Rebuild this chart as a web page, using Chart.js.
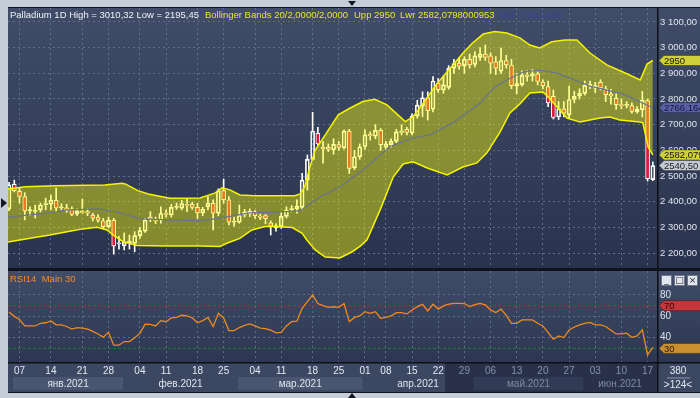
<!DOCTYPE html>
<html>
<head>
<meta charset="utf-8">
<title>Palladium 1D</title>
<script src="https://cdn.jsdelivr.net/npm/chart.js@4.4.1/dist/chart.umd.min.js"></script>
<style>
  html, body { margin: 0; padding: 0; }
  body { width: 700px; height: 398px; position: relative; overflow: hidden; background: #c5cdd8; font-family: "Liberation Sans", Arial, sans-serif; }
  #frame { position: absolute; left: 8px; top: 7px; width: 692px; height: 386px; background: #0f131b; }
  canvas { position: absolute; left: 8px; }
  #priceCanvas { top: 8px; }
  #rsiCanvas { top: 271px; }
  .lbl { position: absolute; font-size: 9.5px; line-height: 11px; white-space: nowrap; }
  .tri { position: absolute; width: 0; height: 0; }
  #btns { position: absolute; left: 661px; top: 275px; font-size: 0; }
  #btns span { display: inline-block; width: 9px; height: 9px; margin-right: 2px; background: #e2e6ec; border: 1px solid #6d7588; color: #1c2230; font-size: 9px; line-height: 9px; text-align: center; vertical-align: top; font-family: "DejaVu Sans", sans-serif; }
</style>
</head>
<body>
<div id="frame"></div>
<canvas id="priceCanvas" width="692" height="260"></canvas>
<canvas id="rsiCanvas" width="692" height="121"></canvas>

<div class="lbl" style="left:10px;top:9px;color:#eef2f7">Palladium 1D High = 3010,32 Low = 2195,45</div>
<div class="lbl" style="left:205px;top:9px;color:#e6e62c">Bollinger Bands 20/2,0000/2,0000</div>
<div class="lbl" style="left:354px;top:9px;color:#e6e62c">Upp 2950</div>
<div class="lbl" style="left:400px;top:9px;color:#e6e62c">Lwr 2582,0798000953</div>
<div class="lbl" style="left:499px;top:9px;color:#3b4596">Mid 2766,1645</div>
<div class="lbl" style="left:10px;top:273px;color:#f08c28">RSI14&nbsp; Main 30</div>
<div id="btns"><span>_</span><span>□</span><span>×</span></div>

<div class="tri" style="left:348px;top:1px;border-left:4px solid transparent;border-right:4px solid transparent;border-top:5px solid #141820"></div>
<div class="tri" style="left:348px;top:393px;border-left:4px solid transparent;border-right:4px solid transparent;border-bottom:5px solid #141820"></div>
<div class="tri" style="left:1px;top:198px;border-top:5px solid transparent;border-bottom:5px solid transparent;border-left:6px solid #141820"></div>

<script>
var FONT = '"Liberation Sans", Arial, sans-serif';

// bar index 0 = 05.01.2021 ... 123 = 18.06.2021
var X_MIN = -0.2, X_MAX = 123.8;

// thursday marks on the date axis
var weekIdx = [2, 8, 14, 19, 25, 30, 36, 41, 47, 52, 58, 63, 68, 72, 77, 82, 87, 92, 97, 102, 107, 112, 117, 122];
var weekLabels = ['07', '14', '21', '28', '04', '11', '18', '25', '04', '11', '18', '25', '01', '08', '15', '22', '29', '06', '13', '20', '27', '03', '10', '17'];
var monthNames = ['янв.2021', 'фев.2021', 'мар.2021', 'апр.2021', 'май.2021', 'июн.2021'];
var monthEdges = [0.75, 21.8, 43.75, 67.5, 88.8, 109.7, 123.8];
var shadedFrom = 83.3;

var openP = [2372, 2468, 2440, 2420, 2364, 2362, 2368, 2388, 2390, 2405,
  2376, 2376, 2372, 2352, 2362, 2361, 2348, 2340, 2325, 2303,
  2328, 2235, 2228, 2240, 2238, 2268, 2285, 2340, 2330, 2328,
  2355, 2348, 2378, 2375, 2390, 2390, 2378, 2356, 2380, 2394,
  2355, 2443, 2407, 2320, 2320, 2348, 2352, 2360, 2344, 2346,
  2318, 2298, 2303, 2343, 2368, 2372, 2378, 2484, 2565, 2666,
  2612, 2612, 2602, 2622, 2610, 2675, 2532, 2575, 2615, 2662,
  2655, 2678, 2612, 2622, 2636, 2670, 2682, 2668, 2734, 2772,
  2805, 2760, 2862, 2835, 2845, 2920, 2940, 2930, 2955, 2935,
  2962, 2975, 2968, 2945, 2908, 2950, 2932, 2850, 2856, 2893,
  2890, 2898, 2866, 2848, 2810, 2730, 2762, 2738, 2798, 2812,
  2822, 2852, 2842, 2865, 2840, 2818, 2803, 2778, 2775, 2774,
  2750, 2758, 2794, 2486];
var highP = [2475, 2484, 2452, 2435, 2380, 2387, 2395, 2414, 2426, 2453,
  2392, 2390, 2380, 2372, 2410, 2372, 2355, 2350, 2335, 2340,
  2335, 2265, 2278, 2270, 2283, 2300, 2335, 2361, 2340, 2380,
  2368, 2390, 2395, 2405, 2413, 2398, 2394, 2378, 2420, 2407,
  2450, 2488, 2420, 2340, 2387, 2370, 2372, 2365, 2352, 2350,
  2325, 2315, 2358, 2380, 2385, 2407, 2510, 2582, 2748, 2690,
  2634, 2625, 2645, 2635, 2680, 2682, 2600, 2625, 2680, 2672,
  2700, 2685, 2635, 2645, 2682, 2700, 2690, 2742, 2795, 2828,
  2828, 2887, 2880, 2890, 2930, 2955, 2960, 2965, 2975, 2985,
  3000, 3010.32, 2980, 2965, 2998, 2970, 2955, 2900, 2910, 2910,
  2915, 2905, 2875, 2870, 2835, 2790, 2790, 2850, 2830, 2840,
  2870, 2870, 2865, 2875, 2850, 2838, 2820, 2800, 2790, 2785,
  2770, 2830, 2800, 2555];
var lowP = [2365, 2438, 2395, 2329, 2345, 2336, 2360, 2368, 2368, 2361,
  2368, 2358, 2345, 2345, 2355, 2345, 2325, 2320, 2295, 2298,
  2195.45, 2215, 2212, 2215, 2205, 2258, 2280, 2322, 2315, 2316,
  2340, 2340, 2370, 2368, 2361, 2370, 2335, 2345, 2368, 2290,
  2345, 2394, 2309, 2305, 2316, 2340, 2342, 2335, 2330, 2314,
  2270, 2285, 2296, 2336, 2360, 2355, 2368, 2445, 2562, 2620,
  2550, 2595, 2585, 2600, 2605, 2510, 2525, 2565, 2605, 2640,
  2645, 2600, 2600, 2612, 2630, 2660, 2660, 2660, 2725, 2731,
  2718, 2750, 2826, 2822, 2838, 2900, 2915, 2900, 2920, 2925,
  2950, 2950, 2900, 2895, 2900, 2920, 2840, 2820, 2850, 2870,
  2870, 2855, 2840, 2770, 2722, 2720, 2730, 2725, 2785, 2800,
  2815, 2840, 2825, 2835, 2790, 2780, 2760, 2762, 2765, 2745,
  2745, 2730, 2480, 2482];
var closeP = [2466, 2443, 2420, 2364, 2369, 2367, 2387, 2393, 2406, 2375,
  2380, 2366, 2350, 2364, 2358, 2355, 2336, 2328, 2303, 2328,
  2228, 2240, 2242, 2246, 2268, 2287, 2328, 2332, 2326, 2354,
  2350, 2378, 2382, 2393, 2385, 2378, 2356, 2370, 2394, 2355,
  2442, 2408, 2320, 2324, 2346, 2360, 2362, 2345, 2339, 2334,
  2305, 2306, 2343, 2367, 2373, 2383, 2484, 2565, 2675, 2625,
  2606, 2604, 2623, 2611, 2675, 2530, 2575, 2614, 2660, 2657,
  2678, 2622, 2625, 2636, 2672, 2676, 2670, 2733, 2776, 2805,
  2755, 2870, 2836, 2855, 2920, 2938, 2928, 2955, 2933, 2968,
  2975, 2962, 2940, 2920, 2950, 2933, 2852, 2860, 2893, 2888,
  2898, 2868, 2852, 2785, 2728, 2762, 2745, 2798, 2810, 2822,
  2853, 2858, 2852, 2843, 2817, 2812, 2778, 2774, 2779, 2752,
  2760, 2795, 2490, 2540.5];

// Bollinger bands 20/2, vertices as [bar index, price]
var bbUpper = [[-0.2, 2449], [3.05, 2458], [8.8, 2462], [18.3, 2465], [21.6, 2472], [22.2, 2469], [24.6, 2443],
  [26.6, 2430], [28.5, 2422], [30.8, 2413], [36.5, 2414], [39.4, 2434], [40.7, 2454], [42.2, 2446], [44.1, 2426],
  [47, 2423], [54.6, 2423], [55.6, 2430], [56.5, 2458], [57.5, 2536], [58.5, 2601], [60.6, 2666], [62.9, 2738],
  [65.1, 2764], [67.6, 2790], [69.9, 2799], [72.2, 2777], [74.3, 2738], [75.7, 2712], [77.2, 2731], [79.1, 2783],
  [81.8, 2861], [84.3, 2920], [86.7, 2978], [88.5, 3017], [90.6, 3053], [92.8, 3063], [95.1, 3057], [97.6, 3038],
  [99.5, 3010], [101.4, 2999], [103.7, 3023], [106.2, 3030], [108.5, 3030], [111, 2979], [114.2, 2933],
  [117.3, 2905], [120.6, 2874], [121.9, 2936], [123, 2950]];
var bbLower = [[-0.2, 2243], [4.6, 2259], [7.8, 2270], [11.1, 2283], [14.1, 2294], [16.8, 2300], [18.7, 2290],
  [19.9, 2270], [21.8, 2244], [24.5, 2229], [30.2, 2227], [36.5, 2227], [40.3, 2225], [41.6, 2238], [44.1, 2257],
  [46.4, 2290], [48.9, 2303], [50.8, 2303], [54.1, 2299], [56, 2277], [56.9, 2251], [58.5, 2212], [60.4, 2184],
  [63.2, 2181], [65.5, 2204], [67.1, 2227], [68.4, 2251], [70.9, 2368], [73.4, 2496], [75.3, 2547], [77.2, 2555],
  [79.9, 2531], [83.7, 2504], [86.7, 2535], [89.4, 2551], [91.3, 2590], [93.8, 2671], [95.7, 2746], [97.6, 2781],
  [99.5, 2823], [102, 2827], [103, 2808], [104.7, 2769], [106.6, 2726], [109.1, 2710], [112.9, 2726],
  [114.8, 2730], [116.7, 2718], [120.6, 2710], [121.1, 2707], [122.1, 2613], [123, 2582.08]];
var bbMid = [[-0.2, 2340], [7.8, 2356], [11.1, 2368], [17.4, 2372], [21.2, 2356], [25, 2333], [36.5, 2325],
  [40.3, 2336], [46, 2356], [51.8, 2360], [55.6, 2364], [59.4, 2418], [63.2, 2457], [67.6, 2523], [72.8, 2615],
  [77.2, 2648], [80.4, 2660], [84.8, 2707], [90, 2784], [92.8, 2847], [95.1, 2874], [98.2, 2905], [101.4, 2913],
  [104.7, 2901], [111, 2850], [117.3, 2820], [123, 2766.16]];

var rsi14 = [64, 60, 57, 51, 51, 51, 53.5, 54, 55.7, 52,
  52, 50.5, 48, 49.5, 49, 48, 46, 43.5, 40.5, 45,
  33, 33, 36.4, 36.4, 40, 44, 52.6, 52.5, 51, 56,
  55, 58.5, 59, 61, 60.5, 58.7, 54, 56, 59, 50.4,
  62.9, 58.5, 46.7, 46.7, 49.5, 51.5, 53, 51, 49, 48.5,
  47, 44.5, 45, 51, 55, 55.5, 67.5, 73.8, 80, 72,
  70, 68.5, 69, 68.5, 72, 55, 59, 60.4, 64.4, 62.8,
  64.4, 58.2, 59.1, 60.4, 63.5, 63.5, 62.3, 66, 69.1, 71.3,
  65, 71.3, 66.8, 69.8, 71.5, 72.2, 72.2, 72, 69.1, 71,
  72.2, 70.7, 66, 63.5, 66.8, 61, 53.5, 53.5, 56.7, 56.7,
  56.7, 53.5, 51, 44.8, 38.6, 41.7, 40.1, 47.3, 50, 52,
  53.5, 54.4, 52, 52, 50.5, 47, 43.5, 43.5, 44.2, 40.4,
  41.7, 47.3, 24, 31];

var priceTicks = [2200, 2300, 2400, 2500, 2600, 2700, 2800, 2900, 3000, 3100];
var priceRange = [2141.6, 3154.5];
var rsiTicks = [40, 60, 80];
var rsiRange = [17.24, 102.48];
var rsiLevels = [70, 30];

// last values shown as markers on the price scale
var tagValues = [2950, 2766.1645, 2582.0798, 2540.5];
var tagTexts = ['2950', '2766,1645', '2582,0798', '2540,50'];

function fmtPrice(v) {
  var s = v.toFixed(2).replace('.', ',');
  return s.replace(/^(\d)(\d{3})/, '$1 $2');
}

function pts(list) {
  return list.map(function (p) { return {x: p[0], y: p[1]}; });
}

function drawTag(ctx, x, y, text, fill, ink) {
  ctx.beginPath();
  ctx.moveTo(x, y);
  ctx.lineTo(x + 5, y - 5);
  ctx.lineTo(x + 42, y - 5);
  ctx.lineTo(x + 42, y + 5);
  ctx.lineTo(x + 5, y + 5);
  ctx.closePath();
  ctx.fillStyle = fill;
  ctx.fill();
  ctx.strokeStyle = 'rgba(0,0,0,0.3)';
  ctx.lineWidth = 1;
  ctx.stroke();
  ctx.fillStyle = ink;
  ctx.font = '9.5px ' + FONT;
  ctx.textAlign = 'left';
  ctx.textBaseline = 'middle';
  ctx.fillText(text, x + 5, y + 0.5);
}

var GRID = '#5f6d8a';
var idx = closeP.map(function (c, i) { return i; });

function xAxis(withLabels) {
  return {
    type: 'linear', min: X_MIN, max: X_MAX, offset: false,
    afterBuildTicks: function (s) { s.ticks = weekIdx.map(function (v) { return {value: v}; }); },
    grid: { color: GRID, drawTicks: false, offset: false },
    border: { display: false, dash: [2, 3] },
    ticks: {
      display: withLabels, autoSkip: false, maxRotation: 0, padding: 3,
      color: function (c) { return c.index >= 16 ? '#8690a8' : '#e4e9f1'; },
      font: { size: 10, family: FONT },
      callback: function (v, i) { return weekLabels[i]; }
    },
    afterFit: function (s) { s.height = withLabels ? 30 : 0; s.paddingLeft = 0; s.paddingRight = 0; }
  };
}

var priceDeco = {
  id: 'priceDeco',
  beforeDraw: function (chart) {
    var ctx = chart.ctx;
    var g = ctx.createLinearGradient(0, 0, 0, chart.height);
    g.addColorStop(0, '#404c68');
    g.addColorStop(1, '#2a334d');
    ctx.save();
    ctx.fillStyle = g;
    ctx.fillRect(0, 0, chart.width, chart.height);
    ctx.restore();
  },
  afterDraw: function (chart) {
    var ctx = chart.ctx, a = chart.chartArea, ys = chart.scales.y;
    var fills = ['#d0d03a', '#5a5fa6', '#d0d03a', '#c6cad2'];
    var inks = ['#15150a', '#14173a', '#15150a', '#1c1f26'];
    ctx.save();
    ctx.fillStyle = '#0d1017';
    ctx.fillRect(a.right, 0, 1.5, chart.height);
    tagValues.forEach(function (v, i) {
      drawTag(ctx, a.right + 2, ys.getPixelForValue(v), tagTexts[i], fills[i], inks[i]);
    });
    ctx.restore();
  }
};

var rsiDeco = {
  id: 'rsiDeco',
  beforeDraw: function (chart) {
    var ctx = chart.ctx, a = chart.chartArea, xs = chart.scales.x;
    ctx.save();
    var g = ctx.createLinearGradient(0, 0, 0, a.bottom);
    g.addColorStop(0, '#404c68');
    g.addColorStop(1, '#2d3751');
    ctx.fillStyle = g;
    ctx.fillRect(0, 0, chart.width, a.bottom);
    ctx.fillStyle = '#3c4761';
    ctx.fillRect(0, a.bottom, chart.width, chart.height - a.bottom);
    var sx = xs.getPixelForValue(shadedFrom);
    ctx.fillStyle = '#29314a';
    ctx.fillRect(sx, a.bottom, a.right - sx, chart.height - a.bottom);
    for (var m = 0; m < monthNames.length; m += 2) {
      var x0 = xs.getPixelForValue(monthEdges[m]), x1 = xs.getPixelForValue(monthEdges[m + 1]);
      ctx.fillStyle = monthEdges[m] >= shadedFrom ? '#323b56' : '#4a556f';
      ctx.fillRect(x0, a.bottom + 15, x1 - x0, 13);
    }
    ctx.restore();
  },
  afterDraw: function (chart) {
    var ctx = chart.ctx, a = chart.chartArea, xs = chart.scales.x, ys = chart.scales.y;
    ctx.save();
    ctx.fillStyle = '#0d1017';
    ctx.fillRect(a.right, 0, 1.5, chart.height);
    ctx.fillRect(0, a.bottom, chart.width, 1.5);
    ctx.font = '10px ' + FONT;
    ctx.textAlign = 'center';
    ctx.textBaseline = 'middle';
    monthNames.forEach(function (name, m) {
      var c = (monthEdges[m] + monthEdges[m + 1]) / 2;
      ctx.fillStyle = monthEdges[m] >= shadedFrom ? '#7f89a1' : '#dfe5ee';
      ctx.fillText(name, xs.getPixelForValue(c), a.bottom + 22);
    });
    ctx.fillStyle = '#e4e9f1';
    ctx.fillText('380', a.right + 21, a.bottom + 9);
    ctx.fillText('>124<', a.right + 21, a.bottom + 23);
    ctx.fillStyle = '#8d97ad';
    ctx.fillRect(a.right + 10, a.bottom + 15.5, 23, 1);
    drawTag(ctx, a.right + 2, ys.getPixelForValue(rsiLevels[0]), '70', '#c5363a', '#2a0c0c');
    drawTag(ctx, a.right + 2, ys.getPixelForValue(rsiLevels[1]), '30', '#c98f30', '#2a1a06');
    ctx.restore();
  }
};

var bodyData = idx.map(function (i) { return {x: i, y: [Math.min(openP[i], closeP[i]), Math.max(openP[i], closeP[i])]}; });
var upperWick = idx.map(function (i) { return {x: i, y: [Math.max(openP[i], closeP[i]), highP[i]]}; });
var lowerWick = idx.map(function (i) { return {x: i, y: [lowP[i], Math.min(openP[i], closeP[i])]}; });

new Chart(document.getElementById('priceCanvas'), {
  type: 'bar',
  data: {
    datasets: [
      { type: 'line', label: 'Mid', data: pts(bbMid), borderColor: '#6a7392', borderWidth: 1.2, pointRadius: 0, tension: 0, order: 0 },
      { type: 'line', label: 'Upp', data: pts(bbUpper), borderColor: '#f4f400', borderWidth: 1.5, pointRadius: 0, tension: 0,
        fill: '+1', backgroundColor: 'rgba(255,255,0,0.42)', order: 1 },
      { type: 'line', label: 'Lwr', data: pts(bbLower), borderColor: '#f4f400', borderWidth: 1.5, pointRadius: 0, tension: 0, order: 1 },
      { label: 'body', data: bodyData, grouped: false, barThickness: 4, borderWidth: 1, borderSkipped: false,
        borderColor: '#ffffff',
        backgroundColor: function (c) { return closeP[c.dataIndex] >= openP[c.dataIndex] ? 'rgba(0,0,0,0)' : '#e0143c'; },
        order: 3 },
      { label: 'hi', data: upperWick, grouped: false, barThickness: 1, borderWidth: 0, backgroundColor: '#ffffff', order: 4 },
      { label: 'lo', data: lowerWick, grouped: false, barThickness: 1, borderWidth: 0, backgroundColor: '#ffffff', order: 4 }
    ]
  },
  options: {
    responsive: false, animation: false, events: [], devicePixelRatio: 1,
    layout: { padding: 0 },
    plugins: { legend: { display: false }, tooltip: { enabled: false } },
    scales: {
      x: xAxis(false),
      y: {
        position: 'right', min: priceRange[0], max: priceRange[1],
        afterBuildTicks: function (s) { s.ticks = priceTicks.map(function (v) { return {value: v}; }); },
        grid: { color: GRID, drawTicks: false },
        border: { display: false, dash: [2, 3] },
        ticks: { color: '#dfe4ec', padding: 3, font: { size: 9.5, family: FONT }, callback: function (v) { return fmtPrice(v); } },
        afterFit: function (s) { s.width = 43; s.paddingTop = 0; s.paddingBottom = 0; }
      }
    }
  },
  plugins: [priceDeco]
});

new Chart(document.getElementById('rsiCanvas'), {
  type: 'line',
  data: {
    datasets: [
      { label: 'RSI14', data: idx.map(function (i) { return {x: i, y: rsi14[i]}; }), borderColor: '#ee8a1e', borderWidth: 1.3, pointRadius: 0, tension: 0 },
      { label: '70', data: [{x: X_MIN, y: rsiLevels[0]}, {x: X_MAX, y: rsiLevels[0]}], borderColor: '#b82a2c', borderWidth: 1, borderDash: [3, 2], pointRadius: 0 },
      { label: '30', data: [{x: X_MIN, y: rsiLevels[1]}, {x: X_MAX, y: rsiLevels[1]}], borderColor: '#1f7a30', borderWidth: 1, borderDash: [3, 2], pointRadius: 0 }
    ]
  },
  options: {
    responsive: false, animation: false, events: [], devicePixelRatio: 1,
    layout: { padding: 0 },
    plugins: { legend: { display: false }, tooltip: { enabled: false } },
    scales: {
      x: xAxis(true),
      y: {
        position: 'right', min: rsiRange[0], max: rsiRange[1],
        afterBuildTicks: function (s) { s.ticks = rsiTicks.map(function (v) { return {value: v}; }); },
        grid: { color: GRID, drawTicks: false },
        border: { display: false, dash: [2, 3] },
        ticks: { color: '#dfe4ec', padding: 3, font: { size: 10, family: FONT } },
        afterFit: function (s) { s.width = 43; s.paddingTop = 0; s.paddingBottom = 0; }
      }
    }
  },
  plugins: [rsiDeco]
});
</script>
</body>
</html>
